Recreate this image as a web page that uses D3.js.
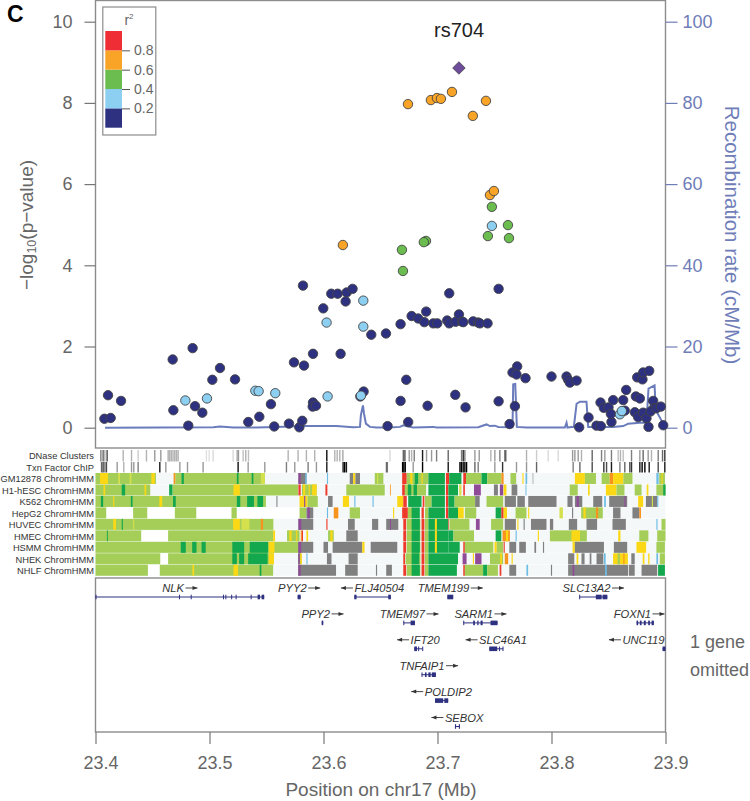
<!DOCTYPE html>
<html><head><meta charset="utf-8">
<script src="https://cdn.jsdelivr.net/npm/d3@7/dist/d3.min.js"></script>
<style>html,body{margin:0;padding:0;background:#fff}svg{display:block}text{font-family:"Liberation Sans",Arial,sans-serif}</style>
</head><body><svg id="c" width="750" height="801"></svg>
<script>
// All positions below are kb offsets from 23.4 Mb on chr17
const xTicks=[23.4,23.5,23.6,23.7,23.8,23.9];
const yTicks=[0,2,4,6,8,10];
const rateTicks=[0,20,40,60,80,100];
const legendBreaks=[0,0.2,0.4,0.6,0.8,1];
const legendColors=["#2e3180","#8ccff0","#6bbd50","#f9a427","#ee2e34"];
const darkPts=[[11,.8],[22.4,.66],[7.8,.22],[13.3,.24],[67.7,1.68],[85.2,1.96],[68.3,.43],[87.3,.53],[93.7,.37],[81.4,.05],[109.2,1.47],[102.5,1.18],[122.4,1.19],[134,.14],[143.7,.27],[153.9,.58],[156.8,.03],[169.7,.1],[178.8,.01],[181.4,.17],[174.1,1.61],[182.9,1.53],[190.8,1.82],[215,1.82],[190.8,.62],[190.5,.52],[193.4,.54],[182,3.5],[206.8,3.3],[212.4,3.3],[220.3,3.33],[225.5,3.42],[219.4,3.11],[199.8,2.94],[241.9,2.29],[254.8,2.32],[235.2,.89],[232.3,.77],[256.2,.04],[267.6,2.55],[277.3,2.75],[283.1,2.69],[288.4,2.6],[290.1,2.86],[296.3,2.57],[299.8,2.57],[308.5,2.64],[310.3,2.57],[315.9,2.61],[318.8,2.79],[321.7,2.61],[322.6,2.6],[331.3,2.62],[335.7,2.59],[337.2,2.57],[343.9,2.57],[310.3,3.31],[353.6,3.42],[272.6,1.18],[267.6,.66],[291.3,.54],[315.6,.81],[324.6,.5],[353.6,.65],[367.9,.53],[274.3,.14],[363.2,.09],[369.9,1.51],[365.8,1.36],[369.3,1.31],[377.2,1.22],[400,1.26],[413.2,1.26],[414.6,1.18],[416.1,1.11],[422,1.16],[424.3,.01],[432.5,.25],[439.5,.05],[443.3,.04],[452.6,.14],[443,.62],[445.9,.49],[450,.5],[452.1,.34],[454.1,.68],[462.9,.68],[465.5,.93],[474,.77],[477.5,.72],[475.2,1.24],[479.8,1.19],[480.4,1.36],[485.7,1.4],[473.1,.38],[476,.26],[480.4,.37],[483.3,.23],[485.1,.02],[489.2,.66],[489.8,.48],[486.9,.4],[492.1,.48],[495.9,.52],[498,.06],[464.3,.42]];
const lightPts=[[78.8,.67],[97.8,.72],[140.2,.91],[143.1,.9],[157.7,.85],[203.6,.77],[232.8,.79],[202.7,2.59],[234.9,3.13],[234.9,2.49],[460,.33],[461.7,.41],[347.7,4.97]];
const greenPts=[[347.7,5.44],[361.8,4.99],[362.7,4.67],[344.2,4.72],[289.9,4.6],[288,4.57],[268.8,4.38],[269.7,3.86]];
const orangePts=[[274.1,7.97],[294.2,8.07],[299.5,8.12],[303,8.1],[312.7,8.27],[342.5,8.05],[331,7.68],[346,5.73],[349.5,5.83],[217,4.5]];
const leadSnp=[[318.8,8.86]];
const recomb=[[8.4,0],[103.4,.1],[109.2,.3],[120.9,.05],[141,.05],[158.9,.15],[182.3,.4],[211.5,.4],[226,.1],[232,.2],[232.8,3.1],[234.6,5.5],[235.5,3.5],[237.2,1],[240.7,.2],[246.6,.05],[258.3,.05],[267,.2],[270,.6],[274.3,.3],[278.7,.05],[296.3,.2],[299.2,.05],[335.7,.1],[343,.8],[346,.4],[350.3,.5],[353.3,.2],[365.8,.1],[366.4,10.7],[368.2,10.8],[369.6,.2],[378.1,.05],[411.7,.05],[413.2,1.2],[414,.05],[417.6,.2],[419.6,.2],[422,5.9],[424.9,6.4],[430.7,6.4],[432.2,.2],[448.3,.2],[454,.2],[462.9,.4],[467.3,1],[477.5,1.2],[483.3,1.2],[485.1,9.6],[490.4,10.4],[491.5,4.3],[498,1]];
const dnase=[[4.7,.5],[6.7,.6],[8.2,.3],[10.2,.7],[24.3,.3],[31.6,.3],[37.4,.2],[44.7,.3],[52,.4],[57.3,.4],[63.7,.3],[65,.3],[66.5,.3],[68,.3],[69.5,.3],[71,.3],[72.5,.3],[97.3,.12],[99.7,.12],[103.2,.15],[120.7,.15],[124.2,.3],[125.4,.4],[129.5,.25],[131.8,.3],[134.2,.25],[169,.3],[177.7,.3],[185,.3],[192.3,.3],[202.9,.95],[209.9,.3],[212,.3],[214.3,.3],[217,.35],[258.3,.15],[270,.6],[271.4,.7],[275.2,.4],[277.3,.3],[279.6,.5],[286.9,.9],[290.4,.4],[294.8,.4],[299.2,.5],[309.4,.6],[321.1,.5],[322.6,.8],[324,.5],[332.8,.4],[336.6,.4],[346.8,.3],[350.3,.4],[354.7,.5],[359.1,.6],[360,.5],[378.1,.3],[386.9,.2],[397.1,.15],[405.9,.15],[418.5,.4],[420.5,.4],[423.4,.4],[426.3,.3],[435.7,.6],[443.9,.5],[446.8,.4],[452.6,.5],[458.5,.25],[460.5,.3],[462.9,.25],[470.2,.5],[477.5,.4],[480.4,.6],[484.8,.4],[487.7,.3],[493.6,.5],[497.4,.6],[499.4,.8]];
const tfChip=[[5.3,.6],[6.7,.7],[8.2,.5],[9.6,.7],[19,.4],[24.8,.3],[31.6,.4],[33.6,.4],[37.4,.5],[56.4,.9],[61.7,.4],[74,.4],[80.7,.4],[94.4,.4],[125.1,.95],[133.9,.4],[148.5,.4],[167.5,.5],[174.8,.4],[186.5,.5],[193.8,.4],[202.9,.9],[217.2,.9],[218.6,1],[220.1,.9],[255.2,.5],[256,.5],[269.4,1],[270.5,1],[271.7,1],[278.7,.4],[286.9,1],[309.4,.9],[319.7,1],[321,1],[322.5,1],[324,1],[325.5,1],[332.8,.6],[335.7,.5],[350.3,.4],[357.1,.8],[369.3,.4],[378.1,.4],[386.9,.6],[419,.5],[424.9,.6],[435.7,.7],[445.9,.8],[448.3,.7],[452.6,.9],[460,.5],[464.3,.6],[468.7,.7],[470.2,.8],[477.5,.9],[479.5,1],[481.9,1],[485.7,.9],[493.6,.7],[499.4,.9]];
const gm12878=[[0,53,'L'],[70,148.5,'L'],[4,11,'Y'],[20,21.5,'W'],[30,31.5,'W'],[49,52,'Y'],[68.5,70,'O'],[75.5,77.5,'G'],[124,125.5,'G'],[137,138.5,'G'],[145,148.5,'W'],[178,185,'K'],[178,180,'P'],[184,185.2,'B'],[203,204,'B'],[223,226,'K'],[226,228,'Y'],[228,232,'K'],[245,252.5,'L'],[247,248,'W'],[269,273,'R'],[273,292,'L'],[276,278,'Y'],[280,283,'G'],[286,287,'Y'],[292,306.5,'G'],[307.4,310.3,'R'],[310.3,321,'G'],[322.6,325,'R'],[325,338.6,'L'],[338.6,343.6,'G'],[343.6,356,'L'],[356,358,'O'],[364,369,'L'],[374.5,375.5,'Y'],[377.2,378.7,'B'],[383.5,384,'K'],[420.5,429.3,'Y'],[429.3,439,'L'],[444,451,'L'],[451,454,'O'],[454,463,'Y'],[463,471,'L'],[492,494,'B'],[494.5,499.5,'L'],[496.5,497.5,'Y']];
const h1hesc=[[0,48,'L'],[67.5,177.7,'L'],[7,8.5,'Y'],[23,26,'G'],[43,44.5,'Y'],[64.6,67.5,'G'],[121,126.6,'Y'],[178,180,'R'],[181,194,'L'],[182,184,'Y'],[187,188,'Y'],[190,194,'Y'],[201.7,203.4,'R'],[220,253.7,'L'],[258.3,259,'O'],[269,271.4,'R'],[271.4,290,'L'],[274,277,'G'],[279,282,'G'],[292,306.5,'G'],[307.4,309.5,'R'],[309.5,318,'G'],[319,321,'W'],[322.6,324,'R'],[332,338,'P'],[349.5,353,'K'],[354.7,357.7,'P'],[358,360.5,'Y'],[365,370,'K'],[377.2,378,'B'],[416,423,'L'],[432,433.5,'Y'],[447.7,457,'Y'],[457,464,'L'],[473,479,'L'],[483.5,485,'Y'],[492,500,'L'],[498,500,'G']];
const k562=[[0,149.5,'L'],[4.7,6.7,'G'],[15.5,16.5,'Y'],[31,32.5,'G'],[56,58.5,'Y'],[68,70.4,'G'],[124,127,'G'],[133,139,'G'],[142,147,'G'],[158.7,159.6,'K'],[179,186,'Y'],[183,184,'P'],[186,195,'L'],[204,208,'K'],[217,222.4,'Y'],[227,228,'B'],[243,244,'B'],[264.7,270,'Y'],[270,273,'R'],[274.3,286,'G'],[287,288.5,'R'],[289,294.8,'L'],[294.8,306.5,'G'],[307.4,309.5,'R'],[309.5,315,'G'],[315,333,'L'],[333,337,'K'],[343,357.6,'L'],[359,368.8,'K'],[370,376.6,'K'],[379.6,404.4,'K'],[414,418.5,'K'],[420.5,427,'K'],[422,424,'P'],[436.6,444.5,'K'],[446.2,447.7,'B'],[450.6,466.4,'K'],[464,465,'P'],[476,480.4,'Y'],[482.8,492.7,'K'],[488,489,'W'],[492.7,493.7,'B']];
const hepg2=[[0,9.6,'L'],[9.6,33,'N'],[33,45.6,'L'],[45.6,69.6,'N'],[69.6,88.6,'L'],[88.6,119.3,'N'],[119.3,124,'L'],[124,179,'N'],[179,185,'L'],[185,191,'K'],[186,188,'P'],[203,204,'B'],[209,213,'O'],[223,232,'L'],[261,262,'Y'],[269,274,'R'],[274,278,'L'],[277.3,284.5,'G'],[286,288,'R'],[289,292,'L'],[292,306.5,'G'],[307.4,309.5,'R'],[309.5,318,'G'],[318,323,'Y'],[324,334,'L'],[351,356,'G'],[356,358,'R'],[358,361,'Y'],[368.5,378,'L'],[379.5,380.5,'Y'],[407,410,'W'],[418,419,'K'],[426,445,'L'],[428,430,'Y'],[439,441,'O'],[454,460.5,'K'],[471,477,'K'],[477,478.5,'O']];
const huvec=[[0,156,'L'],[15.5,18,'Y'],[23,24,'G'],[33,34,'W'],[120.7,126.6,'Y'],[128,135,'W'],[145,147,'O'],[178,191,'K'],[178,180.5,'P'],[202.5,203.5,'R'],[221.5,227.4,'K'],[242.6,248,'K'],[255,265.6,'K'],[258.3,259.2,'P'],[270,272.5,'R'],[273,285,'L'],[277.3,284.5,'G'],[286,288.5,'R'],[289,292,'L'],[292,309.5,'G'],[297.7,299.5,'Y'],[309.5,310,'R'],[310.5,328,'L'],[333.7,337,'P'],[347,357.6,'L'],[359,368.8,'K'],[370,371,'Y'],[375.5,376.5,'K'],[382,395.6,'K'],[398.6,401.5,'K'],[415.2,422.5,'K'],[430.7,440,'K'],[453.5,465.2,'K'],[492,493,'B'],[496.5,500,'L']];
const hmec=[[0,40.3,'L'],[40.3,63.7,'N'],[63.7,155.8,'L'],[10,10.8,'G'],[155.8,157.5,'Y'],[168,179,'L'],[170,172,'Y'],[176,177,'Y'],[180,181,'O'],[181,182,'R'],[185,186.5,'Y'],[204,209,'L'],[206,208,'Y'],[220,230,'K'],[270,272.5,'R'],[273,285,'L'],[277.3,284.5,'G'],[286,288.5,'R'],[289,292,'L'],[292,309.5,'G'],[297.7,299.5,'Y'],[309.5,314,'G'],[314,332,'L'],[351,356,'G'],[357,363.5,'O'],[360,362,'Y'],[368.5,369.5,'B'],[388,389,'Y'],[398.6,425,'L'],[417.5,425,'Y'],[425,431,'L'],[458.5,460.5,'Y'],[477,485,'L'],[492.7,500,'L']];
const hsmm=[[0,177.7,'L'],[74.8,79.2,'G'],[84.8,88.6,'G'],[93,96.7,'G'],[120,130.4,'G'],[135.3,151.4,'G'],[152,157,'Y'],[177.7,191,'K'],[178,180.5,'P'],[200,204,'K'],[208,234,'K'],[234,236,'Y'],[241.4,264.7,'K'],[270,272.5,'R'],[273,285,'L'],[277.3,284.5,'G'],[286,288.5,'R'],[289,292,'L'],[292,309.5,'G'],[297.7,299.5,'Y'],[309.5,319.5,'G'],[322.6,324,'R'],[324,349,'L'],[350,352,'Y'],[352,357.6,'L'],[358,359,'R'],[363,369,'K'],[371.7,377.5,'K'],[385,386.5,'K'],[392.5,393.5,'K'],[418.5,420.5,'Y'],[420.5,446,'K'],[454.7,466.4,'K'],[474.5,483,'Y'],[492,499.5,'L']];
const nhek=[[0,57,'L'],[57,63.7,'N'],[63.7,156.5,'L'],[120,124,'G'],[126,130.4,'G'],[133.9,151,'G'],[152,156.5,'Y'],[177.7,180.5,'K'],[178,179,'P'],[179.5,181,'Y'],[185,186,'B'],[203,207,'K'],[222,230,'K'],[270,271.5,'R'],[272,285,'L'],[277.3,284,'G'],[286,288.5,'R'],[289,292,'L'],[292,318,'G'],[322,325.5,'P'],[331,332,'Y'],[333,338.6,'P'],[346,357.6,'L'],[355,356.5,'Y'],[359,362,'O'],[365,366,'Y'],[414.6,420,'K'],[422,423.5,'Y'],[426.3,429,'K'],[433.5,435,'K'],[439.5,445.5,'K'],[446,447.5,'B'],[454,467,'Y'],[458,460,'L'],[463,464,'O'],[470,473,'K'],[480,481.5,'Y'],[484.8,486,'Y'],[492,493.5,'B'],[495,499.5,'L']];
const nhlf=[[0,46,'L'],[46,56.4,'N'],[56.4,155.8,'L'],[85,86.5,'Y'],[121,125,'Y'],[144,145.5,'G'],[177.7,211,'K'],[178,180,'P'],[219,230,'K'],[246,247,'K'],[255,260,'K'],[270,272.5,'R'],[273,285,'L'],[277.3,284.5,'G'],[286,288.5,'R'],[289,292,'L'],[292,317,'G'],[322.6,324,'R'],[324,340,'L'],[340,343.6,'G'],[343.6,353,'L'],[354.5,356,'R'],[363,369,'K'],[378,379.5,'B'],[399.5,400.5,'K'],[414.6,467.3,'K'],[418.5,420,'P'],[447,448.5,'B'],[468,473,'K'],[479,492.7,'K'],[493.5,499.5,'G']];
const trackNames=["GM12878 ChromHMM","H1-hESC ChromHMM","K562 ChromHMM","HepG2 ChromHMM","HUVEC ChromHMM","HMEC ChromHMM","HSMM ChromHMM","NHEK ChromHMM","NHLF ChromHMM"];
const trackRuns=[gm12878,h1hesc,k562,hepg2,huvec,hmec,hsmm,nhek,nhlf];
const stateColors={L:"#a4ce58",G:"#14a84e",Y:"#fbd816",O:"#f7941d",R:"#ee3a2a",P:"#8f4a98",K:"#808080",B:"#6cbce6",W:"#d4e04c",N:"#ffffff"};
// gene: name, strand, row, exons [start,end]; the span runs from first to last exon
const geneNames=["NLK","PYY2","PPY2","FLJ40504","TMEM97","IFT20","TNFAIP1","POLDIP2","SEBOX","TMEM199","SARM1","SLC46A1","SLC13A2","FOXN1","UNC119"];
const geneStrands=[1,1,1,-1,1,-1,1,-1,-1,1,1,-1,1,1,-1];
const geneRows=[0,0,1,0,1,2,3,4,5,0,1,2,0,1,2];
const geneExons=[
[[0,.4],[73.2,73.9],[83.5,84.1],[111.8,112.4],[113.9,114.5],[119,119.7],[122.9,123.5],[136.1,136.7],[142.2,144.3],[145.7,148]],
[[177.3,180]],[[198.4,199.8]],[[227,229],[256.8,259.1]],[[270,270.6],[276.4,280.2]],[[279.6,282],[283,283.6],[286.6,287]],
[[286,286.6],[289,290.4],[292,294],[295,298.6]],[[297.8,305],[306,309.4]],[[315.3,316.3],[318.7,319.7]],[[308.6,313.8]],
[[322.6,323.2],[331.3,332.8],[334.9,336],[337.8,339.6],[346.5,352.7]],[[345.4,352.4],[354,354.6],[357,357.7]],
[[424.3,424.9],[438.9,444],[444.8,449]],[[474.6,476],[477.5,479],[481,482.7],[484.8,486.3],[487.8,489.8]],[[497.4,500]]];
const otherLabel=["1 gene","omitted"];

const svg=d3.select("#c");
const GRAY="#8c8c8c",TXT="#666",BLUE="#6f7db9",DARK="#2e3180";
const L=95.5,R=665.5,T=0.5,B=448,G0=578,G1=732;
const xMb=d3.scaleLinear().domain([23.4,23.9]).range([L,R]);
const x=k=>xMb(23.4+k/1000);
const y=d3.scaleLinear().domain([0,10]).range([427.7,21.7]);
const yR=d3.scaleLinear().domain([0,100]).range([427.7,21.7]);

// panels
svg.append("rect").attr("x",L).attr("y",T).attr("width",R-L).attr("height",B-T).attr("fill","none").attr("stroke",GRAY).attr("stroke-width",1.4);
svg.append("rect").attr("x",L).attr("y",G0).attr("width",R-L).attr("height",G1-G0).attr("fill","none").attr("stroke",GRAY).attr("stroke-width",1.4);

function styleAxis(g,col,fs){g.select(".domain").remove();g.selectAll("line").attr("stroke",col==TXT?"#777":col).attr("stroke-width",1.2);g.selectAll("text").attr("fill",col).attr("font-size",fs);}
svg.append("g").attr("transform",`translate(${L},0)`).call(d3.axisLeft(y).tickValues(yTicks).tickSize(11).tickPadding(12)).call(styleAxis,TXT,18);
svg.append("g").attr("transform",`translate(${R},0)`).call(d3.axisRight(yR).tickValues(rateTicks).tickSize(12).tickPadding(5)).call(styleAxis,BLUE,18);
svg.append("g").attr("transform",`translate(0,${G1})`).call(d3.axisBottom(xMb).tickValues(xTicks).tickFormat(d3.format(".1f")).tickSize(12).tickPadding(12)).call(styleAxis,TXT,18).call(g=>g.selectAll("text").attr("dx",5));

// recombination
svg.append("path").datum(recomb).attr("fill","none").attr("stroke","#6a7cbc").attr("stroke-width",2)
 .attr("d",d3.line().x(d=>x(d[0])).y(d=>yR(d[1])));

// points
function dots(data,fill){svg.append("g").selectAll("circle").data(data).join("circle")
 .attr("cx",d=>x(d[0])).attr("cy",d=>y(d[1])).attr("r",4.7).attr("fill",fill).attr("stroke","#444").attr("stroke-width",.9);}
dots(darkPts,DARK);dots(lightPts,"#8ccff0");dots(greenPts,"#6bbd50");dots(orangePts,"#f9a427");
svg.append("g").selectAll("path").data(leadSnp).join("path")
 .attr("d",d3.symbol(d3.symbolSquare,78)).attr("transform",d=>`translate(${x(d[0])},${y(d[1])}) rotate(45)`).attr("fill","#6f4c9b").attr("stroke","#444").attr("stroke-width",.8);

// legend
svg.append("rect").attr("x",102.8).attr("y",7).attr("width",53).attr("height",128).attr("fill","#fff").attr("stroke",GRAY).attr("stroke-width",1.2);
const yL=d3.scaleLinear().domain([0,1]).range([127.7,31]);
svg.append("g").selectAll("rect").data(legendColors).join("rect").attr("x",105.3).attr("width",16.7)
 .attr("y",(d,i)=>yL(legendBreaks[i+1])).attr("height",(d,i)=>yL(legendBreaks[i])-yL(legendBreaks[i+1])).attr("fill",d=>d);
svg.append("g").attr("transform","translate(122,0)").call(d3.axisRight(yL).tickValues([.2,.4,.6,.8]).tickFormat(d3.format(".1f")).tickSize(8).tickPadding(4)).call(g=>{g.select(".domain").remove();g.selectAll("line").attr("stroke","#555");g.selectAll("text").attr("fill",TXT).attr("font-size",14);});
const r2=svg.append("text").attr("x",129).attr("y",25).attr("text-anchor","middle").attr("font-size",14).attr("fill",TXT);
r2.append("tspan").text("r");r2.append("tspan").text("2").attr("font-size",8).attr("dy",-6);

// tracks
const rowY=i=>473+i*11.47;
svg.append("g").selectAll("rect").data(trackNames).join("rect").attr("x",L).attr("width",R-L).attr("y",(d,i)=>rowY(i)).attr("height",11).attr("fill","#f5f8f9");
trackRuns.forEach((runs,i)=>{
 svg.append("g").selectAll("rect").data(runs).join("rect").attr("x",d=>x(d[0])).attr("width",d=>x(d[1])-x(d[0])).attr("y",rowY(i)).attr("height",11).attr("fill",d=>stateColors[d[2]]);
});
function bands(data,y0,h){svg.append("g").selectAll("rect").data(data).join("rect").attr("x",d=>x(d[0])-.7).attr("width",1.4).attr("y",y0).attr("height",h).attr("fill","#000").attr("fill-opacity",d=>d[1]);}
bands(dnase,450,11.5);bands(tfChip,462,10.5);
const trackLabels=["DNase Clusters","Txn Factor ChIP"].concat(trackNames);
const labY=[456,468];
svg.append("g").selectAll("text").data(trackLabels).join("text").attr("x",94).attr("text-anchor","end").attr("font-size",9.3).attr("fill","#333")
 .attr("y",(d,i)=>(i<2?labY[i]:rowY(i-2)+6)+3.4).text(d=>d);

// genes
const gLabelY=r=>592+r*25.9, gBarY=r=>597+r*25.9;
geneNames.forEach((name,i)=>{
 const ex=geneExons[i],r=geneRows[i],s=geneStrands[i];
 const a=x(ex[0][0]),b=x(ex[ex.length-1][1]);
 const g=svg.append("g");
 g.append("line").attr("x1",a).attr("x2",b).attr("y1",gBarY(r)).attr("y2",gBarY(r)).attr("stroke",DARK).attr("stroke-width",1);
 g.selectAll("rect").data(ex).join("rect").attr("x",d=>x(d[0])).attr("width",d=>Math.max(1,x(d[1])-x(d[0]))).attr("y",gBarY(r)-2.3).attr("height",4.6).attr("fill",DARK);
 const t=g.append("text").attr("font-size",11.2).attr("font-style","italic").attr("fill","#333").attr("y",gLabelY(r)).text(name);
 const w=t.node().getComputedTextLength(),al=12,tot=w+al+1.5;
 let c=(a+b)/2; c=Math.min(R-1-tot/2,Math.max(L+1+tot/2,c));
 const left=c-tot/2,ay=gLabelY(r)-4;
 t.attr("x",s>0?left:left+al+1.5);
 const a0=s>0?left+w+1.5:left+al,a1=s>0?a0+al:left;
 g.append("line").attr("x1",a0).attr("x2",a1).attr("y1",ay).attr("y2",ay).attr("stroke","#333").attr("stroke-width",.9);
 g.append("path").attr("d",`M${a1},${ay}L${a1-s*5},${ay-2}L${a1-s*5},${ay+2}Z`).attr("fill","#333");
});

// text
svg.append("g").selectAll("text").data(otherLabel).join("text").attr("x",690).attr("y",(d,i)=>648+i*28).attr("font-size",18).attr("fill",TXT).text(d=>d);
svg.append("text").attr("x",459).attr("y",37).attr("text-anchor","middle").attr("font-size",20).attr("fill","#222").text("rs704");
svg.append("text").attr("x",7).attr("y",22).attr("font-size",23).attr("font-weight","bold").attr("fill","#000").text("C");
svg.append("text").attr("x",381).attr("y",796).attr("text-anchor","middle").attr("font-size",19).attr("fill",TXT).text("Position on chr17 (Mb)");
const yl=svg.append("text").attr("transform","translate(33,225) rotate(-90)").attr("text-anchor","middle").attr("font-size",19).attr("fill",TXT);
yl.append("tspan").text("\u2212log");yl.append("tspan").text("10").attr("font-size",12.5).attr("dy",3);yl.append("tspan").text("(p\u2212value)").attr("dy",-3);
svg.append("text").attr("transform","translate(725,235) rotate(90)").attr("text-anchor","middle").attr("font-size",20.5).attr("fill",BLUE).text("Recombination rate (cM/Mb)");
</script></body></html>
